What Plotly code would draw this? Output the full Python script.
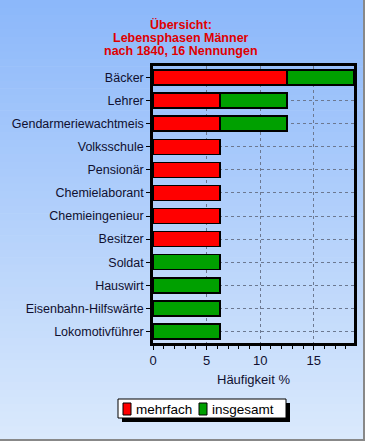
import plotly.graph_objects as go

categories = ["Bäcker", "Lehrer", "Gendarmeriewachtmeis", "Volksschule", "Pensionär",
              "Chemielaborant", "Chemieingenieur", "Besitzer", "Soldat", "Hauswirt",
              "Eisenbahn-Hilfswärte", "Lokomotivführer"]
mehrfach = [12.5, 6.25, 6.25, 6.25, 6.25, 6.25, 6.25, 6.25, 0, 0, 0, 0]
insgesamt = [6.25, 6.25, 6.25, 0, 0, 0, 0, 0, 6.25, 6.25, 6.25, 6.25]
x_ticks = [0, 5, 10, 15]
title_lines = ["Übersicht:", "Lebensphasen Männer", "nach 1840, 16 Nennungen"]
series_names = ["mehrfach", "insgesamt"]
series_colors = ["#ff0000", "#00a000"]

W, H = 365, 441
L, R, T, B = 153, 11, 66, 98
PW, PH = W - L - R, H - T - B
FONT = "Arial, Liberation Sans, sans-serif"

def px_x(px):
    return (px - L) / PW

def px_y(py):
    return (H - B - py) / PH

fig = go.Figure()
for name, vals, col in zip(series_names, [mehrfach, insgesamt], series_colors):
    fig.add_trace(go.Bar(y=categories, x=vals, orientation="h", name=name, showlegend=False,
                         marker=dict(color=col, line=dict(color="black", width=1.5))))

shapes = []
annotations = []
# gradient background
top = (140, 184, 250)
bot = (218, 233, 252)
n = 60
for i in range(n):
    f = i / (n - 1)
    c = tuple(round(top[k] + (bot[k] - top[k]) * f) for k in range(3))
    y0 = i * H / n
    y1 = (i + 1) * H / n + 0.6
    shapes.append(dict(type="rect", xref="paper", yref="paper", layer="below",
                       x0=px_x(0), x1=px_x(W), y0=px_y(y1), y1=px_y(y0),
                       fillcolor="rgb(%d,%d,%d)" % c, line=dict(width=0)))
# window border
shapes.append(dict(type="line", xref="paper", yref="paper", x0=px_x(W - 1), x1=px_x(W - 1),
                   y0=px_y(0), y1=px_y(H), line=dict(color="#888888", width=2)))
shapes.append(dict(type="line", xref="paper", yref="paper", x0=px_x(0), x1=px_x(W),
                   y0=px_y(H - 1), y1=px_y(H - 1), line=dict(color="#888888", width=2)))
# legend: shadow, box, swatches, text
shapes.append(dict(type="rect", xref="paper", yref="paper", layer="above",
                   x0=px_x(122), x1=px_x(290), y0=px_y(422), y1=px_y(403),
                   fillcolor="black", line=dict(width=0)))
shapes.append(dict(type="rect", xref="paper", yref="paper", layer="above",
                   x0=px_x(118), x1=px_x(286), y0=px_y(418), y1=px_y(399),
                   fillcolor="white", line=dict(color="black", width=1)))
leg_x = [123, 199]
for name, col, lx in zip(series_names, series_colors, leg_x):
    shapes.append(dict(type="rect", xref="paper", yref="paper", layer="above",
                       x0=px_x(lx), x1=px_x(lx + 8), y0=px_y(415), y1=px_y(403),
                       fillcolor=col, line=dict(color="black", width=1)))
    annotations.append(dict(text=name, xref="paper", yref="paper", x=px_x(lx + 11),
                            y=px_y(409), xanchor="left", yanchor="middle", showarrow=False,
                            font=dict(family=FONT, size=13.5, color="black")))
# title lines
for line, cy in zip(title_lines, [24.5, 38, 51.5]):
    annotations.append(dict(text="<b>%s</b>" % line, xref="paper", yref="paper",
                            x=px_x(181), y=px_y(cy), xanchor="center", yanchor="middle",
                            showarrow=False, borderpad=0,
                            font=dict(family=FONT, size=12.5, color="#e00000")))

fig.update_layout(
    width=W, height=H,
    margin=dict(l=L, r=R, t=T, b=B, pad=0),
    paper_bgcolor="rgb(218,233,252)",
    plot_bgcolor="rgba(0,0,0,0)",
    barmode="stack",
    bargap=0.35,
    shapes=shapes,
    annotations=annotations,
    showlegend=False,
    font=dict(family=FONT, size=13, color="#101030"),
    xaxis=dict(range=[0, 18.75], tickvals=x_ticks, ticks="outside", ticklen=4,
               tickcolor="black", automargin=False,
               minor=dict(dtick=1, ticks="outside", ticklen=3, tickcolor="black", showgrid=False),
               showline=True, linecolor="black", linewidth=2.5, mirror=True,
               showgrid=True, gridcolor="#6c7890", griddash="3px,3px", gridwidth=1,
               zeroline=False,
               title=dict(text="Häufigkeit %", standoff=8, font=dict(size=13)),
               tickfont=dict(size=13)),
    yaxis=dict(categoryorder="array", categoryarray=categories, autorange="reversed",
               ticks="outside", ticklen=4, tickcolor="black", automargin=False,
               showline=True, linecolor="black", linewidth=2.5, mirror=True,
               showgrid=True, gridcolor="#6c7890", griddash="3px,3px", gridwidth=1,
               tickfont=dict(size=12.5)),
)

fig.write_html("out.html", config={"displayModeBar": False},
               post_script="document.body.style.margin='0';document.body.style.padding='0';")
